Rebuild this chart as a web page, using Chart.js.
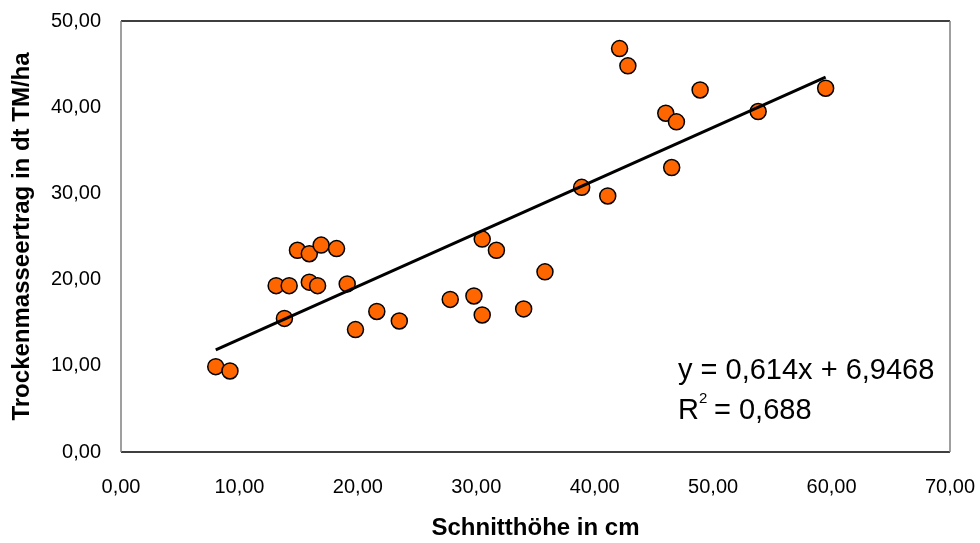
<!DOCTYPE html>
<html>
<head>
<meta charset="utf-8">
<script src="https://cdn.jsdelivr.net/npm/chart.js@4/dist/chart.umd.min.js"></script>
<style>
  html, body { margin: 0; padding: 0; background: #fff; }
  #wrap { width: 980px; height: 543px; }
</style>
</head>
<body>
<div id="wrap"><canvas id="chart"></canvas></div>
<script>
// Schnitthöhe (cm) vs. Trockenmasseertrag (dt TM/ha)
const schnitthoehe = [8.0, 9.2, 13.1, 14.2, 13.8, 14.9, 15.9, 15.9, 16.6, 16.9, 18.2, 19.1, 19.8, 21.6, 23.5, 27.8,
    29.8, 30.5, 30.5, 31.7, 34.0, 35.8, 38.9, 41.1, 42.1, 42.8, 46.0, 46.5, 46.9, 48.9, 53.8, 59.5];
const ertrag = [9.9, 9.4, 19.3, 19.3, 15.5, 23.4, 23.0, 19.7, 19.3, 24.0, 23.6, 19.5, 14.2, 16.3, 15.2, 17.7,
    18.1, 24.7, 15.9, 23.4, 16.6, 20.9, 30.7, 29.7, 46.8, 44.8, 39.3, 33.0, 38.3, 42.0, 39.5, 42.2];

// Trendline (linear regression, as given in the chart)
const slope = 0.614;
const intercept = 6.9468;
const trendX = [8.0, 59.5];
const equationText = 'y = 0,614x + 6,9468';
const r2Value = '0,688';

const xTicks = [0, 10, 20, 30, 40, 50, 60, 70];
const yTicks = [0, 10, 20, 30, 40, 50];

const FONT = 'Arial, "Liberation Sans", sans-serif';

function formatDE(v) {
    return v.toFixed(2).replace('.', ',');
}

// plot frame + regression label
const framePlugin = {
    id: 'frame',
    afterDraw(chart) {
        const { ctx, chartArea: a } = chart;
        ctx.save();
        ctx.lineWidth = 1.5;
        ctx.strokeStyle = '#000';
        ctx.beginPath();
        ctx.moveTo(a.left, a.top); ctx.lineTo(a.right, a.top);
        ctx.moveTo(a.left, a.bottom); ctx.lineTo(a.right, a.bottom);
        ctx.stroke();
        ctx.strokeStyle = '#808080';
        ctx.beginPath();
        ctx.moveTo(a.left, a.top); ctx.lineTo(a.left, a.bottom);
        ctx.moveTo(a.right, a.top); ctx.lineTo(a.right, a.bottom);
        ctx.stroke();

        ctx.fillStyle = '#000';
        ctx.textBaseline = 'alphabetic';
        ctx.textAlign = 'left';
        ctx.font = '29px ' + FONT;
        ctx.fillText(equationText, 678, 379);
        ctx.fillText('R', 678, 419);
        const rw = ctx.measureText('R').width;
        ctx.font = '15px ' + FONT;
        ctx.fillText('2', 678 + rw, 403);
        ctx.font = '29px ' + FONT;
        ctx.fillText(' = ' + r2Value, 678 + rw + 7, 419);
        ctx.restore();
    }
};

const ctx = document.getElementById('chart').getContext('2d');
new Chart(ctx, {
    type: 'scatter',
    data: {
        datasets: [
            {
                type: 'line',
                label: 'Trend',
                data: trendX.map(x => ({ x: x, y: slope * x + intercept })),
                borderColor: '#000',
                borderWidth: 3,
                pointRadius: 0,
                fill: false,
                order: 0
            },
            {
                label: 'Messwerte',
                data: schnitthoehe.map((x, i) => ({ x: x, y: ertrag[i] })),
                backgroundColor: '#FF6600',
                borderColor: '#000',
                borderWidth: 1.5,
                pointRadius: 8,
                pointHoverRadius: 8,
                order: 1
            }
        ]
    },
    options: {
        responsive: true,
        maintainAspectRatio: false,
        animation: false,
        layout: { padding: { left: 0, right: 30, top: 21, bottom: 0 } },
        plugins: {
            legend: { display: false },
            tooltip: { enabled: false }
        },
        scales: {
            x: {
                type: 'linear',
                min: 0,
                max: 70,
                afterBuildTicks: (scale) => { scale.ticks = xTicks.map(v => ({ value: v })); },
                afterFit: (scale) => {
                    scale.height = 91;
                    scale.paddingLeft = 0;
                    scale.paddingRight = 0;
                },
                grid: { display: false, drawTicks: false },
                border: { display: false },
                ticks: {
                    padding: 23,
                    color: '#000',
                    font: { family: FONT, size: 20 },
                    callback: (v) => formatDE(v)
                },
                title: {
                    display: true,
                    text: 'Schnitthöhe in cm',
                    color: '#000',
                    font: { family: FONT, size: 24, weight: 'bold' },
                    padding: { top: 4, bottom: 0 }
                }
            },
            y: {
                type: 'linear',
                min: 0,
                max: 50,
                afterBuildTicks: (scale) => { scale.ticks = yTicks.map(v => ({ value: v })); },
                afterFit: (scale) => {
                    scale.width = 121;
                    scale.paddingTop = 0;
                    scale.paddingBottom = 0;
                },
                grid: { display: false, drawTicks: false },
                border: { display: false },
                ticks: {
                    padding: 20,
                    color: '#000',
                    font: { family: FONT, size: 20 },
                    callback: (v) => formatDE(v)
                },
                title: {
                    display: true,
                    text: 'Trockenmasseertrag in dt TM/ha',
                    color: '#000',
                    font: { family: FONT, size: 24, weight: 'bold' },
                    padding: { top: 8, bottom: 0 }
                }
            }
        }
    },
    plugins: [framePlugin]
});
</script>
</body>
</html>
